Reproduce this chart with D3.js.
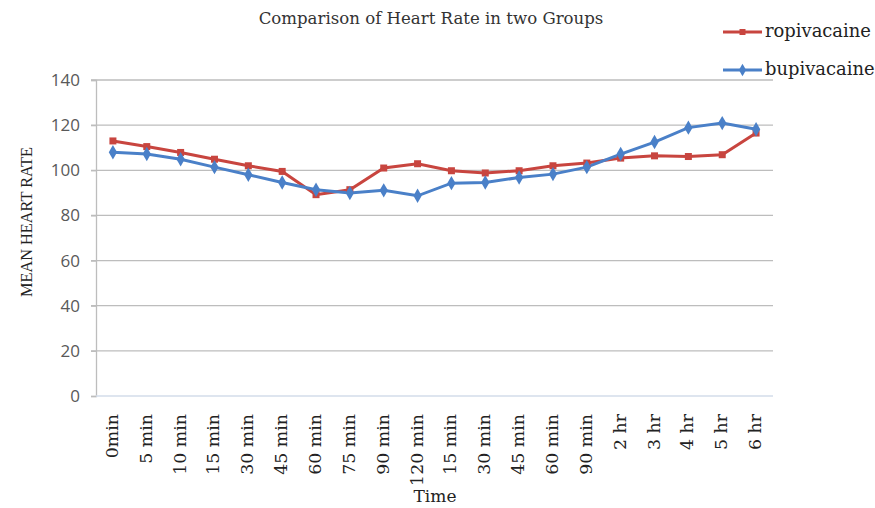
<!DOCTYPE html>
<html>
<head>
<meta charset="utf-8">
<script src="https://cdn.jsdelivr.net/npm/d3@7"></script>
<style>
  body { margin: 0; background: #fff; }
  svg { display: block; }
</style>
</head>
<body>
<div id="plot"></div>
<script>
var width = 875;
var height = 508;

// data
var times = ["0min", "5 min", "10 min", "15 min", "30 min", "45 min", "60 min", "75 min", "90 min", "120 min",
  "15 min", "30 min", "45 min", "60 min", "90 min", "2 hr", "3 hr", "4 hr", "5 hr", "6 hr"];
var ropivacaine = [113.0, 110.5, 107.9, 104.9, 102.0, 99.5, 89.2, 91.4, 101.0, 102.9,
  99.8, 98.8, 99.8, 102.0, 103.2, 105.4, 106.4, 106.1, 106.9, 116.5];
var bupivacaine = [108.0, 107.2, 104.9, 101.4, 98.0, 94.6, 91.4, 89.9, 91.1, 88.7,
  94.3, 94.6, 96.8, 98.3, 101.4, 107.2, 112.5, 118.9, 120.9, 118.2];
var yTicks = [0, 20, 40, 60, 80, 100, 120, 140];

var redColor = "#c8453f";
var blueColor = "#4a80c8";
var serif = "'DejaVu Serif', 'Liberation Serif', serif";

var margin = {top: 80, right: 102, bottom: 112, left: 96};

var svg = d3.select("div#plot")
  .append("svg")
  .attr("width", width)
  .attr("height", height);

// scale a text's font size so it is as wide as in the picture
function fitText(sel, target) {
  var w = sel.node().getComputedTextLength();
  var fs = parseFloat(sel.style("font-size"));
  sel.style("font-size", (fs * target / w) + "px");
}

var x = d3.scalePoint()
  .domain(d3.range(times.length))
  .range([margin.left, width - margin.right])
  .padding(0.5);

var y = d3.scaleLinear()
  .domain([0, 140])
  .range([height - margin.bottom, margin.top]);

// gridlines
svg.append("g")
  .selectAll("line")
  .data(yTicks.filter(function(d){ return d > 0; }))
  .enter()
  .append("line")
  .attr("x1", margin.left - 5)
  .attr("x2", width - margin.right)
  .attr("y1", function(d){ return y(d); })
  .attr("y2", function(d){ return y(d); })
  .style("stroke", "#bdbdbd")
  .style("stroke-width", 1.3);

// y axis
var yAxis = d3.axisLeft(y).tickValues(yTicks).tickSize(5).tickPadding(11);
var gy = svg.append("g")
  .attr("transform", "translate(" + margin.left + ",0)")
  .call(yAxis);
gy.select(".domain").style("stroke", "#bdbdbd").style("stroke-width", 1.3);
gy.selectAll(".tick line").style("stroke", "#bdbdbd").style("stroke-width", 1.3);
gy.selectAll(".tick text")
  .style("font-family", "'Open Sans', 'Liberation Sans', sans-serif")
  .style("font-size", "17px")
  .style("fill", "#595959");

// x axis
svg.append("line")
  .attr("x1", margin.left)
  .attr("x2", width - margin.right)
  .attr("y1", y(0))
  .attr("y2", y(0))
  .style("stroke", "#d3dcea")
  .style("stroke-width", 1.5);

var xLabels = svg.append("g")
  .selectAll("text")
  .data(times)
  .enter()
  .append("text")
  .attr("transform", function(d, i){ return "translate(" + (x(i) + 5) + "," + (y(0) + 18) + ") rotate(-90)"; })
  .attr("text-anchor", "end")
  .style("font-family", serif)
  .style("font-size", "16px")
  .style("fill", "#222")
  .text(function(d){ return d; });
var longest = xLabels.filter(function(d, i){ return i === 9; });
var w120 = longest.node().getComputedTextLength();
xLabels.style("font-size", (16 * 72 / w120) + "px");

// axis titles
var tTime = svg.append("text")
  .attr("x", 435)
  .attr("y", 502)
  .attr("text-anchor", "middle")
  .style("font-family", serif)
  .style("font-size", "16px")
  .style("fill", "#222")
  .text("Time");
fitText(tTime, 43);

var tY = svg.append("text")
  .attr("transform", "translate(32,222) rotate(-90)")
  .attr("text-anchor", "middle")
  .style("font-family", "'Liberation Serif', serif")
  .style("font-size", "16px")
  .style("fill", "#222")
  .text("MEAN HEART RATE");
fitText(tY, 150);

// title
var title = svg.append("text")
  .attr("x", 431)
  .attr("y", 24)
  .attr("text-anchor", "middle")
  .style("font-family", serif)
  .style("font-size", "16px")
  .style("fill", "#333")
  .text("Comparison of Heart Rate in two Groups");
fitText(title, 345);

// lines
var line = d3.line()
  .x(function(d, i){ return x(i); })
  .y(function(d){ return y(d); });

svg.append("path")
  .datum(ropivacaine)
  .attr("d", line)
  .style("fill", "none")
  .style("stroke", redColor)
  .style("stroke-width", 3);

svg.append("path")
  .datum(bupivacaine)
  .attr("d", line)
  .style("fill", "none")
  .style("stroke", blueColor)
  .style("stroke-width", 3);

// markers
svg.append("g")
  .selectAll("rect")
  .data(ropivacaine)
  .enter()
  .append("rect")
  .attr("x", function(d, i){ return x(i) - 3.5; })
  .attr("y", function(d){ return y(d) - 3.5; })
  .attr("width", 7)
  .attr("height", 7)
  .style("fill", redColor);

var diamond = d3.symbol().type(d3.symbolDiamond).size(60);
svg.append("g")
  .selectAll("path")
  .data(bupivacaine)
  .enter()
  .append("path")
  .attr("d", diamond)
  .attr("transform", function(d, i){ return "translate(" + x(i) + "," + y(d) + ")"; })
  .style("fill", blueColor);

// legend
var legendItems = [
  {name: "ropivacaine", color: redColor, yPos: 32, square: true},
  {name: "bupivacaine", color: blueColor, yPos: 70, square: false}
];
var leg = svg.append("g")
  .selectAll("g")
  .data(legendItems)
  .enter()
  .append("g")
  .attr("transform", function(d){ return "translate(723," + d.yPos + ")"; });

leg.append("line")
  .attr("x1", 0)
  .attr("x2", 39)
  .style("stroke", function(d){ return d.color; })
  .style("stroke-width", 3);

leg.append("path")
  .attr("d", function(d){ return d.square ? "M-3,-3H3V3H-3Z" : d3.symbol().type(d3.symbolDiamond).size(45)(); })
  .attr("transform", "translate(19.5,0)")
  .style("fill", function(d){ return d.color; });

var legText = leg.append("text")
  .attr("x", 42)
  .attr("y", 5)
  .style("font-family", serif)
  .style("font-size", "16px")
  .style("fill", "#222")
  .text(function(d){ return d.name; });
fitText(legText.filter(function(d, i){ return i === 0; }), 106);
legText.style("font-size", legText.filter(function(d, i){ return i === 0; }).style("font-size"));
</script>
</body>
</html>
